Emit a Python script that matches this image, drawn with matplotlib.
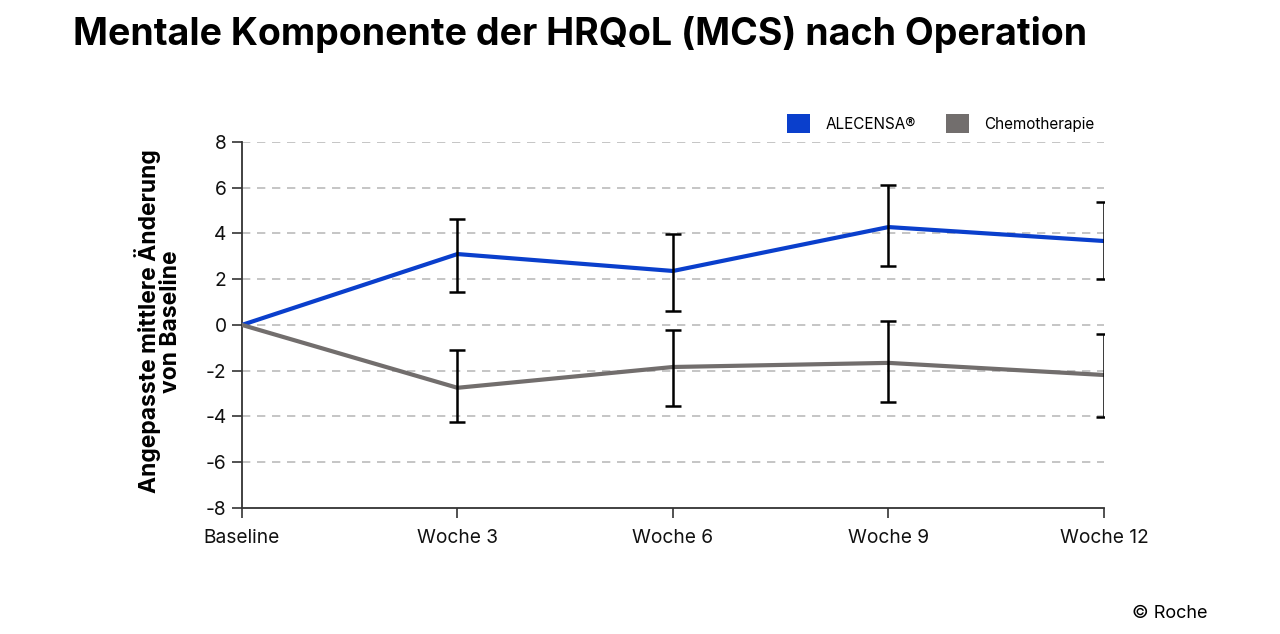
import matplotlib
matplotlib.use("Agg")
import matplotlib.pyplot as plt
from matplotlib.patches import Patch

# data
labels = ["Baseline", "Woche 3", "Woche 6", "Woche 9", "Woche 12"]
alecensa = [0.0, 3.10, 2.36, 4.28, 3.67]
alecensa_hi = [0.0, 4.63, 3.98, 6.12, 5.38]
alecensa_lo = [0.0, 1.44, 0.61, 2.58, 2.01]
chemo = [0.0, -2.75, -1.84, -1.66, -2.19]
chemo_hi = [0.0, -1.09, -0.22, 0.17, -0.39]
chemo_lo = [0.0, -4.24, -3.54, -3.37, -4.02]
yticks = [-8, -6, -4, -2, 0, 2, 4, 6, 8]

blue = "#0a3fcc"
grey = "#726e6d"

plt.rcParams["font.family"] = ["Inter", "DejaVu Sans"]

fig = plt.figure(figsize=(12.8, 6.34), dpi=100)
ax = fig.add_axes([0.189, 0.199, 0.6735, 0.577])

x = list(range(len(labels)))
ax.plot(x, alecensa, color=blue, lw=3, zorder=3)
ax.plot(x, chemo, color=grey, lw=3, zorder=3)


def draw_err(vals, hi, lo):
    # no error bar at baseline
    xs = x[1:]
    v = vals[1:]
    err = [[a - b for a, b in zip(v, lo[1:])], [b - a for a, b in zip(v, hi[1:])]]
    ax.errorbar(xs, v, yerr=err, fmt="none", ecolor="black", elinewidth=1.8,
                capsize=6, capthick=1.8, zorder=4)


draw_err(alecensa, alecensa_hi, alecensa_lo)
draw_err(chemo, chemo_hi, chemo_lo)

ax.set_xlim(0, 4)
ax.set_ylim(-8, 8)
ax.set_yticks(yticks)
ax.set_yticklabels([str(t) for t in yticks])
ax.set_xticks(x)
ax.set_xticklabels(labels)
ax.tick_params(axis="both", labelsize=13.8, length=7, width=1.2, color="#333333",
               labelcolor="#111111")
ax.tick_params(axis="x", pad=8)
ax.tick_params(axis="y", pad=4)

for t in yticks[1:]:
    ax.axhline(t, color="#bbbbbb", lw=1.2, ls=(0, (5, 4)), zorder=1)

for s in ["top", "right"]:
    ax.spines[s].set_visible(False)
for s in ["left", "bottom"]:
    ax.spines[s].set_linewidth(1.3)
    ax.spines[s].set_color("#333333")

ax.set_ylabel("Angepasste mittlere Änderung\nvon Baseline", fontsize=16.5,
              fontweight="bold", linespacing=0.9)
ax.yaxis.set_label_coords(-0.07, 0.51)

handles = [Patch(facecolor=blue, label="ALECENSA®"),
           Patch(facecolor=grey, label="Chemotherapie")]
fig.legend(handles=handles, loc="center", bbox_to_anchor=(0.735, 0.805), ncol=2,
           frameon=False, fontsize=11, handlelength=1.5, handleheight=1.5,
           handletextpad=1.0, columnspacing=2.0)

fig.text(0.057, 0.945, "Mentale Komponente der HRQoL (MCS) nach Operation",
         fontsize=27, fontweight="bold", va="center", ha="left")
fig.text(0.943, 0.033, "© Roche", fontsize=13, ha="right", va="center")

fig.savefig("out.png", dpi=100)
